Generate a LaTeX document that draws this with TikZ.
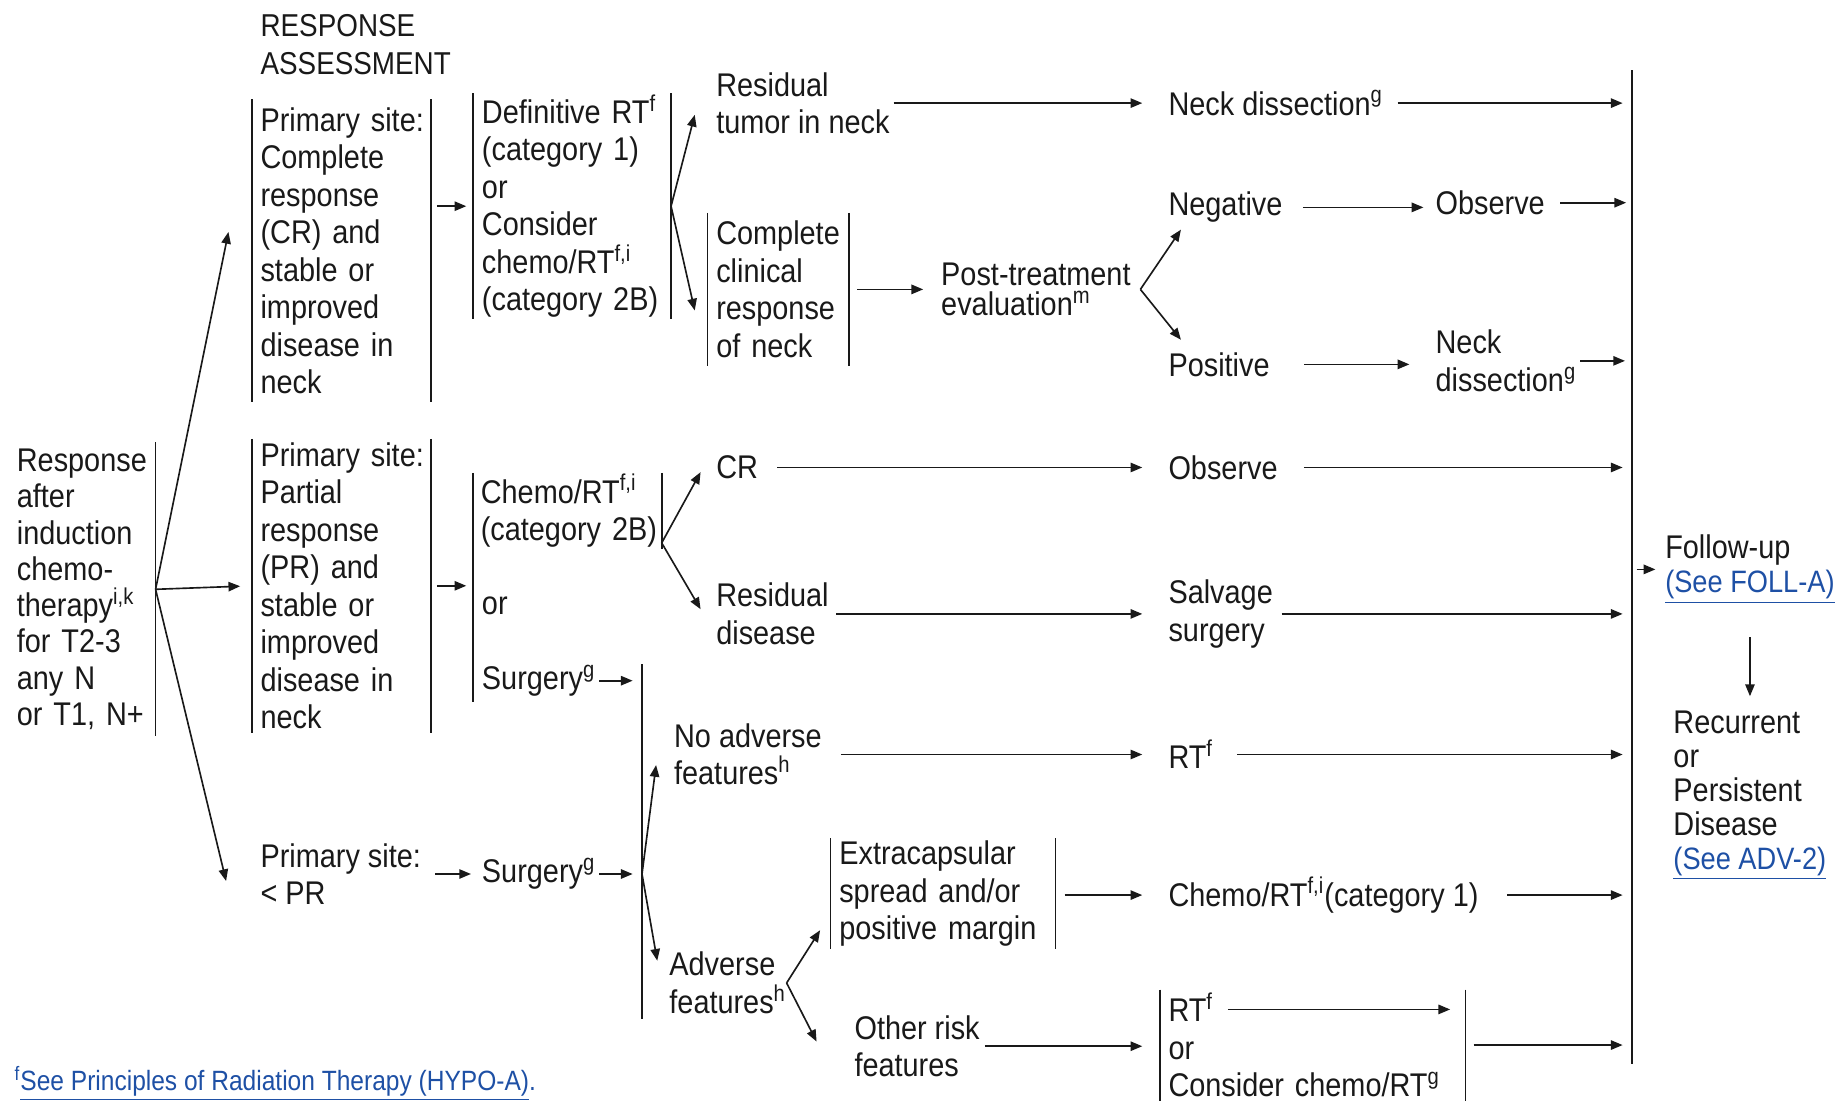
\documentclass[tikz,border=0pt]{standalone}
\usepackage{fontspec}
\setmainfont[FakeStretch=0.88]{Liberation Sans}
\usepackage{tikz}
\usetikzlibrary{arrows.meta,positioning,calc}
\definecolor{ink}{RGB}{25,25,25}
\definecolor{linkblue}{RGB}{30,80,165}
\newcommand{\fnote}[1]{\textsuperscript{#1}}
\newcommand{\seelink}[1]{{\fontsize{13.2}{14.5}\selectfont\textcolor{linkblue}{\underline{#1}}}}

\begin{document}
\begin{tikzpicture}[x=0.5pt,y=-0.5pt,
  txt/.style={anchor=west,inner sep=0pt,align=left,text=ink,
    font=\fontsize{14}{16}\selectfont},
  barbox/.style={txt,inner xsep=3.5pt,inner ysep=0pt},
  vbar/.style={draw=ink,line width=0.7pt},
  arr/.style={draw=ink,line width=0.7pt,-{Triangle[length=5pt,width=4pt]}}]
  \useasboundingbox (0,0) rectangle (1568,939);

  % Induction response
  \node[txt,text width=59pt,minimum height=125pt,font=\fontsize{14}{15.5}\selectfont]
    (resp) at (14,503) {Response\\after\\induction\\chemo-\\therapy\fnote{i,k}\\for~T2-3\\any~N\\or~T1,~N+};
  \node[txt,font=\fontsize{13.5}{16}\selectfont] (hdr) at (222,38) {RESPONSE\\ASSESSMENT};

  % Primary site: CR
  \node[barbox,text width=69pt,minimum height=129pt] (crA) at (215,214)
    {Primary~site:\\Complete\\response\\(CR)~and\\stable~or\\improved\\disease~in\\neck};
  \node[barbox,text width=77pt,minimum height=96pt] (defrt) at (404,176)
    {Definitive~RT\fnote{f}\\(category~1)\\or\\Consider\\chemo/RT\fnote{f,i}\\(category~2B)};
  \node[txt] (restum) at (611,88) {Residual\\tumor in neck};
  \node[txt] (neckdA) at (997,88) {Neck dissection\fnote{g}};
  \node[barbox,text width=53pt,minimum height=65pt] (ccr) at (604,247)
    {Complete\\clinical\\response\\of~neck};
  \node[txt,font=\fontsize{14}{13}\selectfont] (ptev) at (803,247) {Post-treatment\\evaluation\fnote{m}};
  \node[txt] (neg) at (997,177) {Negative};
  \node[txt] (obsA) at (1225,173) {Observe};
  \node[txt] (pos) at (997,311) {Positive};
  \node[txt] (neckdB) at (1225,308) {Neck\\dissection\fnote{g}};

  % Primary site: PR
  \node[barbox,text width=69pt,minimum height=125pt] (prD) at (215,500)
    {Primary~site:\\Partial\\response\\(PR)~and\\stable~or\\improved\\disease~in\\neck};
  \node[barbox,inner xsep=3pt,text width=74pt,minimum height=32pt] (chemoE) at (404,436)
    {Chemo/RT\fnote{f,i}\\(category~2B)};
  \node[txt] (orE) at (411,517) {or};
  \node[txt] (surgE) at (411,581) {Surgery\fnote{g}};
  \node[txt] (crE) at (611,399) {CR};
  \node[txt] (obsE) at (997,399) {Observe};
  \node[txt] (resdis) at (611,524) {Residual\\disease};
  \node[txt] (salv) at (997,524) {Salvage\\surgery};

  % Primary site: < PR
  \node[txt] (ltpr) at (222,746) {Primary site:\\< PR};
  \node[txt] (surgF) at (411,746) {Surgery\fnote{g}};
  \node[txt] (noadv) at (575,644) {No adverse\\features\fnote{h}};
  \node[txt] (rtF) at (997,644) {RT\fnote{f}};
  \node[txt] (adv) at (571,839) {Adverse\\features\fnote{h}};
  \node[barbox,text width=88.5pt,minimum height=47pt] (ecs) at (709,763)
    {Extracapsular\\spread~and/or\\positive~margin};
  \node[txt] (chemoG) at (997,764) {Chemo/RT\fnote{f,i}(category 1)};
  \node[txt] (orisk) at (729,893) {Other risk\\features};
  \node[barbox,text width=123pt,minimum height=47pt] (rtH) at (990,892)
    {RT\fnote{f}\\or\\Consider~chemo/RT\fnote{g}};

  % Follow-up
  \coordinate (colTop) at (1393,60);
  \coordinate (colBot) at (1393,908);
  \node[txt,font=\fontsize{14}{14.5}\selectfont] (follow) at (1421,486)
    {Follow-up\\\seelink{(See FOLL-A)}};
  \node[txt,font=\fontsize{14}{14.5}\selectfont] (recur) at (1428,679)
    {Recurrent\\or\\Persistent\\Disease\\\seelink{(See ADV-2)}};
  \node[txt,font=\fontsize{11.9}{13}\selectfont,text=linkblue] (foot) at (12,925)
    {\fnote{f}\underline{See Principles of Radiation Therapy (HYPO-A)}.};

  % Bars
  \coordinate (splitTop) at (548,567);
  \coordinate (splitBot) at (548,870);
  \coordinate (splitMid) at (548,746);
  \foreach \b in {crA,defrt,ccr,prD,chemoE,ecs,rtH}
    \draw[vbar] (\b.north west) -- (\b.south west) (\b.north east) -- (\b.south east);
  \draw[vbar] (resp.north east) -- (resp.south east);
  \draw[vbar] (chemoE.south west) -- ([yshift=-2pt]chemoE.south west |- surgE.south);
  \draw[vbar] (splitTop) -- (splitBot);
  \draw[vbar] (colTop) -- (colBot);

  % Arrows
  \draw[arr] (resp.east) -- ([shift={(-20,-16)}]crA.west);
  \draw[arr,shorten >=5pt] (resp.east) -- (prD.west);
  \draw[arr] (resp.east) -- ([shift={(-29,6)}]ltpr.west);
  \draw[arr,shorten <=2.5pt,shorten >=3pt] (crA.east |- defrt.west) -- (defrt.west);
  \draw[arr] (defrt.east) -- ([shift={(-18,10)}]restum.west);
  \draw[arr] (defrt.east) -- ([shift={(-11,18)}]ccr.west);
  \draw[arr,shorten <=1.5pt,shorten >=11pt] (restum.east |- neckdA.west) -- (neckdA.west);
  \draw[arr,shorten <=6pt,shorten >=4pt] (neckdA.east) -- (neckdA.east -| colTop);
  \draw[arr,shorten <=3.5pt,shorten >=7.5pt] (ccr.east |- ptev.west) -- (ptev.west);
  \draw[arr] ([xshift=4pt]ptev.east) -- ([shift={(11,19)}]neg.west);
  \draw[arr] ([xshift=4pt]ptev.east) -- ([shift={(11,-21)}]pos.west);
  \draw[arr,shorten <=8.5pt,shorten >=5pt] (neg.east) -- (neg.east -| obsA.west);
  \draw[arr,shorten <=6.5pt,shorten >=2.5pt] (obsA.east) -- (obsA.east -| colTop);
  \draw[arr,shorten <=14.5pt,shorten >=11pt] (pos.east) -- (pos.east -| neckdB.west);
  \draw[arr,shorten <=1.5pt,shorten >=3pt] (neckdB.east) -- (neckdB.east -| colTop);

  \draw[arr,shorten <=2.5pt,shorten >=3pt] (prD.east) -- (prD.east -| chemoE.west);
  \draw[arr] ([yshift=2.5pt]chemoE.south east) -- ([shift={(-13,4)}]crE.west);
  \draw[arr] ([yshift=2.5pt]chemoE.south east) -- ([shift={(-13,-4)}]resdis.west);
  \draw[arr,shorten <=8pt,shorten >=11pt] (crE.east) -- (crE.east -| obsE.west);
  \draw[arr,shorten <=11pt,shorten >=4pt] (obsE.east) -- (obsE.east -| colTop);
  \draw[arr,shorten <=3pt,shorten >=11pt] (resdis.east) -- (resdis.east -| salv.west);
  \draw[arr,shorten <=3.5pt,shorten >=4pt] (salv.east) -- (salv.east -| colTop);
  \draw[arr,shorten <=1.5pt,shorten >=4pt] (surgE.east) -- (surgE.east -| splitTop);

  \draw[arr,shorten <=6pt,shorten >=4.5pt] (ltpr.east |- surgF.west) -- (surgF.west);
  \draw[arr,shorten <=1.5pt,shorten >=4pt] (surgF.east) -- (splitMid);
  \draw[arr] (splitMid) -- ([shift={(-15,9)}]noadv.west);
  \draw[arr] (splitMid) -- ([shift={(-10,-19)}]adv.west);
  \draw[arr,shorten <=8pt,shorten >=11pt] (noadv.east) -- (noadv.east -| rtF.west);
  \draw[arr,shorten <=10pt,shorten >=4pt] (rtF.east) -- (rtF.east -| colTop);
  \draw[arr] (adv.east) -- ([shift={(-9,31)}]ecs.west);
  \draw[arr] (adv.east) -- ([shift={(-32,-4)}]orisk.west);
  \draw[arr,shorten <=4pt,shorten >=11pt] (ecs.east |- chemoG.west) -- (chemoG.west);
  \draw[arr,shorten <=12pt,shorten >=4pt] (chemoG.east) -- (chemoG.east -| colTop);
  \draw[arr,shorten <=2pt,shorten >=7.5pt] (orisk.east) -- (orisk.east -| rtH.west);
  \draw[arr] ([shift={(58,17)}]rtH.north west) -- ([shift={(-13,17)}]rtH.north east);
  \draw[arr,shorten <=3.5pt,shorten >=4pt] (rtH.east) -- (rtH.east -| colTop);
  \draw[arr,shorten <=2pt,shorten >=4pt] (colTop |- follow.west) -- (follow.west);
  \draw[arr,line width=0.5pt,shorten <=14pt,shorten >=6pt] (follow.south) -- (follow.south |- recur.north);
\end{tikzpicture}
\end{document}
